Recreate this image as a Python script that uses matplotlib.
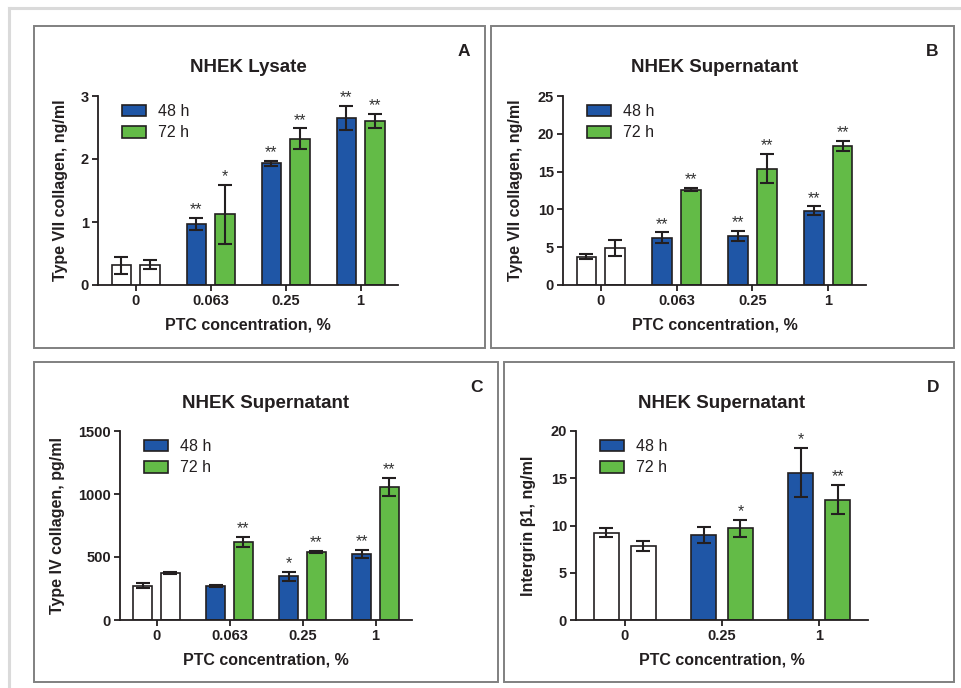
import numpy as np
import matplotlib
matplotlib.use("Agg")
import matplotlib.pyplot as plt
from matplotlib.patches import Patch, Rectangle
from matplotlib.lines import Line2D

plt.rcParams['font.family'] = ['Liberation Sans', 'DejaVu Sans']

# ---- data ----
conc_abc = ['0', '0.063', '0.25', '1']
conc_d = ['0', '0.25', '1']

a_48 = [0.31, 0.97, 1.93, 2.65]
a_48_err = [0.13, 0.10, 0.045, 0.195]
a_72 = [0.32, 1.12, 2.32, 2.60]
a_72_err = [0.07, 0.47, 0.165, 0.11]
a_48_sig = ['', '**', '**', '**']
a_72_sig = ['', '*', '**', '**']

b_48 = [3.75, 6.25, 6.5, 9.8]
b_48_err = [0.3, 0.7, 0.7, 0.6]
b_72 = [4.9, 12.6, 15.4, 18.4]
b_72_err = [1.0, 0.2, 1.95, 0.7]
b_48_sig = ['', '**', '**', '**']
b_72_sig = ['', '**', '**', '**']

c_48 = [272, 270, 347, 524]
c_48_err = [18, 10, 35, 35]
c_72 = [376, 619, 542, 1058]
c_72_err = [8, 40, 9, 72]
c_48_sig = ['', '', '*', '**']
c_72_sig = ['', '**', '**', '**']

d_48 = [9.25, 9.0, 15.6]
d_48_err = [0.5, 0.83, 2.63]
d_72 = [7.85, 9.7, 12.75]
d_72_err = [0.55, 0.87, 1.55]
d_48_sig = ['', '', '*']
d_72_sig = ['', '*', '**']

W, H = 962, 688
BLUE = '#1f56a6'
GREEN = '#63bb47'
INK = '#231f20'

fig = plt.figure(figsize=(W / 100, H / 100), dpi=100)


def fx(px):
    return px / W


def fy(py):
    return 1 - py / H


# outer light frame (top and left only)
fig.add_artist(Line2D([fx(9), 1], [fy(8), fy(8)], color='#dadada', lw=2.2))
fig.add_artist(Line2D([fx(9), fx(9)], [fy(8), 0], color='#dadada', lw=2.2))

# panel boxes
for x0, y0, x1, y1 in [(34, 26, 485, 348), (491, 26, 954, 348),
                       (34, 362, 498, 682), (504, 362, 954, 682)]:
    fig.add_artist(Rectangle((fx(x0), fy(y1)), fx(x1 - x0), (y1 - y0) / H,
                             fill=False, ec='#808080', lw=1.4))


def panel(box, cats, v48, e48, v72, e72, s48, s72, ymax, ystep, ylabel,
          title, letter, letter_xy, ylab_x):
    left, right, bottom, top = box
    wpx, hpx = right - left, bottom - top
    ax = fig.add_axes([fx(left), fy(bottom), wpx / W, hpx / H])
    x = np.arange(len(cats))
    off, bw = 0.19, 0.26
    c48 = ['white'] + [BLUE] * (len(cats) - 1)
    c72 = ['white'] + [GREEN] * (len(cats) - 1)
    ekw = dict(ecolor=INK, elinewidth=1.5, capsize=5, capthick=1.5)
    ax.bar(x - off, v48, bw, color=c48, edgecolor=INK, lw=1.2,
           yerr=e48, error_kw=ekw, zorder=2)
    ax.bar(x + off, v72, bw, color=c72, edgecolor=INK, lw=1.2,
           yerr=e72, error_kw=ekw, zorder=2)
    for xs, vals, errs, sig in [(x - off, v48, e48, s48), (x + off, v72, e72, s72)]:
        for xi, v, e, s in zip(xs, vals, errs, sig):
            if s:
                ax.annotate(s, (xi, v + e), xytext=(0, 0.5), textcoords='offset points',
                            ha='center', va='bottom', fontsize=11.5, color='#333333')

    ax.set_xlim(-0.5, len(cats) - 0.5)
    ax.set_ylim(0, ymax)
    ax.set_yticks(np.arange(0, ymax + ystep / 2, ystep))
    ax.set_xticks(x)
    ax.set_xticklabels(cats)
    for sp in ['top', 'right']:
        ax.spines[sp].set_visible(False)
    for sp in ['left', 'bottom']:
        ax.spines[sp].set_linewidth(1.3)
        ax.spines[sp].set_color(INK)
    ax.tick_params(width=1.3, length=4, color=INK, labelsize=10.5,
                   labelcolor=INK, pad=2.5)
    for lab in ax.get_xticklabels() + ax.get_yticklabels():
        lab.set_fontweight('bold')

    ax.set_xlabel('PTC concentration, %', fontsize=11.5, fontweight='bold',
                  color=INK, va='center')
    ax.xaxis.set_label_coords(0.5, -40 / hpx)
    ax.set_ylabel(ylabel, fontsize=11.5, fontweight='bold', color=INK, va='center')
    ax.yaxis.set_label_coords((ylab_x - left) / wpx, 0.5)
    ax.text(0.5, 1 + 28 / hpx, title, transform=ax.transAxes, ha='center',
            va='center', fontsize=13.5, fontweight='bold', color=INK)
    fig.text(fx(letter_xy[0]), fy(letter_xy[1]), letter, ha='center', va='center',
             fontsize=12.5, fontweight='bold', color=INK)

    handles = [Patch(fc=BLUE, ec=INK, lw=1.2, label='48 h'),
               Patch(fc=GREEN, ec=INK, lw=1.2, label='72 h')]
    ax.legend(handles=handles, loc='upper left', bbox_to_anchor=(24 / wpx, 1 - 8 / hpx),
              frameon=False, fontsize=11.5, handlelength=1.5, handleheight=0.75,
              handletextpad=0.75, labelspacing=0.4, borderpad=0, borderaxespad=0,
              labelcolor=INK)
    return ax


panel((98, 398, 285, 96), conc_abc, a_48, a_48_err, a_72, a_72_err, a_48_sig, a_72_sig,
      3, 1, 'Type VII collagen, ng/ml', 'NHEK Lysate', 'A', (464, 52), 60)
panel((563, 866, 285, 96), conc_abc, b_48, b_48_err, b_72, b_72_err, b_48_sig, b_72_sig,
      25, 5, 'Type VII collagen, ng/ml', 'NHEK Supernatant', 'B', (932, 52), 516)
panel((120, 412, 620, 431), conc_abc, c_48, c_48_err, c_72, c_72_err, c_48_sig, c_72_sig,
      1500, 500, 'Type IV collagen, pg/ml', 'NHEK Supernatant', 'C', (477, 387), 58)
panel((576, 868, 620, 431), conc_d, d_48, d_48_err, d_72, d_72_err, d_48_sig, d_72_sig,
      20, 5, 'Intergrin \u03b21, ng/ml', 'NHEK Supernatant', 'D', (933, 387), 529)

fig.savefig('out.png', dpi=100)
